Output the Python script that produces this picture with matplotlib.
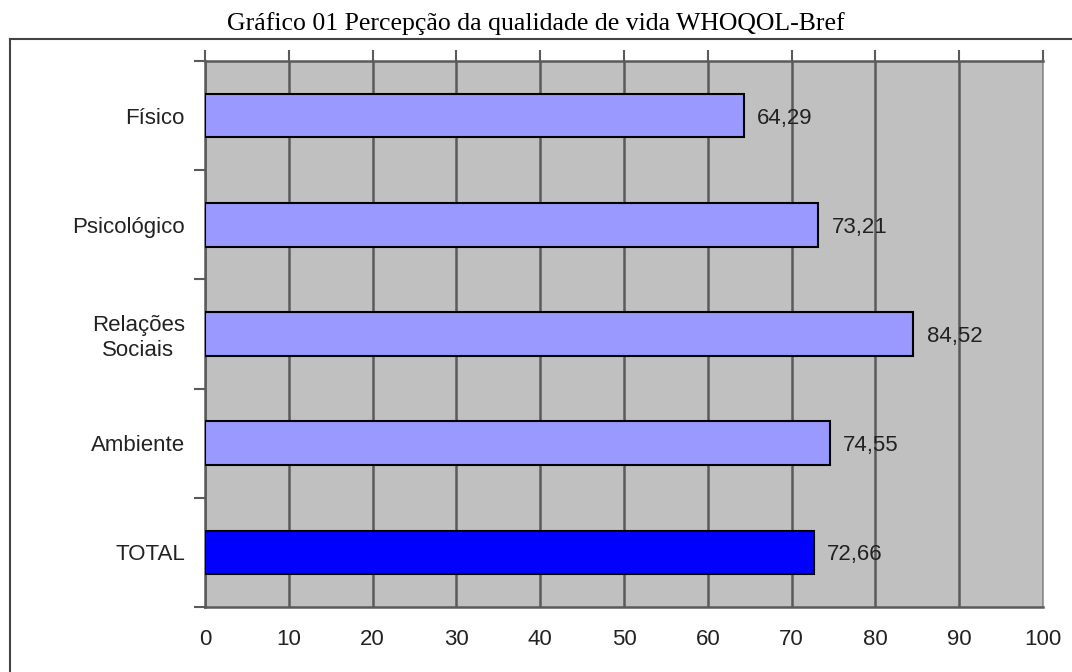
import numpy as np
import matplotlib
matplotlib.use('Agg')
import matplotlib.pyplot as plt
from matplotlib.lines import Line2D

# dados do grafico
dominios = ['Físico', 'Psicológico', 'Relações\nSociais', 'Ambiente', 'TOTAL']
valores = [64.29, 73.21, 84.52, 74.55, 72.66]
rotulos = ['64,29', '73,21', '84,52', '74,55', '72,66']
cores = ['#9999FF', '#9999FF', '#9999FF', '#9999FF', '#0000FF']
xticks = list(range(0, 101, 10))

plt.rcParams['font.family'] = ['Liberation Sans', 'DejaVu Sans']

fig = plt.figure(figsize=(10.72, 6.72), dpi=100)
ax = fig.add_axes([205/1072, 1 - 607/672, (1043-205)/1072, (607-61)/672])

ypos = np.arange(len(dominios))
ax.barh(ypos, valores, height=0.4, color=cores, edgecolor='black', linewidth=1.5, zorder=3)

for y, v, t in zip(ypos, valores, rotulos):
    ax.text(v + 1.6, y, t, va='center_baseline', ha='left', fontsize=16, color='#222222', zorder=4)

ax.set_facecolor('#C0C0C0')
ax.set_xlim(0, 100)
ax.set_ylim(4.5, -0.5)

# grade vertical
ax.set_xticks(xticks)
ax.xaxis.grid(True, color='#5a5a5a', linewidth=1.8, zorder=1)
ax.set_axisbelow(True)

# ticks do eixo x: marcas em cima, rotulos embaixo
ax.tick_params(axis='x', which='major', top=True, bottom=False, labeltop=False, labelbottom=True,
               direction='out', length=8, width=1.5, color='#5a5a5a', labelsize=16, pad=8,
               labelcolor='#222222')

ax.set_yticks(ypos)
ax.set_yticklabels(dominios)
ax.set_yticks(np.arange(-0.5, 5, 1), minor=True)
ax.tick_params(axis='y', which='major', left=False, labelsize=16, pad=11, labelcolor='#222222')
ax.tick_params(axis='y', which='minor', left=True, direction='out', length=8, width=1.5,
               color='#5a5a5a')
for lab in ax.get_yticklabels():
    lab.set_multialignment('center')

for s in ['top', 'bottom', 'left']:
    ax.spines[s].set_color('#5a5a5a')
    ax.spines[s].set_linewidth(1.8)
ax.spines['right'].set_color('#909090')
ax.spines['right'].set_linewidth(1.2)

fig.text(0.5, 1 - 24/672, 'Gráfico 01 Percepção da qualidade de vida WHOQOL-Bref',
         ha='center', va='center', fontsize=18.5, family='Liberation Serif', color='black')

# moldura externa
fig.add_artist(Line2D([10/1072, 10/1072], [0, 1 - 39/672], transform=fig.transFigure,
                      color='#444444', linewidth=1.5))
fig.add_artist(Line2D([10/1072, 1], [1 - 39/672, 1 - 39/672], transform=fig.transFigure,
                      color='#444444', linewidth=1.5))

fig.savefig('out.png', dpi=100)
